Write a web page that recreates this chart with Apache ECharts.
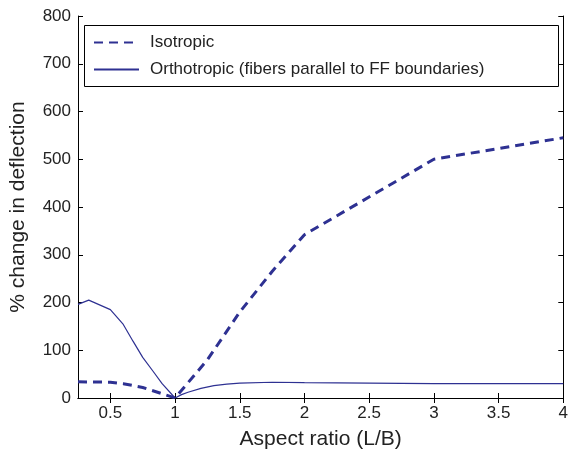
<!DOCTYPE html>
<html><head><meta charset="utf-8">
<script src="https://cdn.jsdelivr.net/npm/echarts@6/dist/echarts.min.js"></script>
<style>html,body{margin:0;padding:0;background:#fff}#c{width:571px;height:460px}</style>
</head><body><div id="c"></div>
<script>
var isoX = [0.25, 0.5, 0.6, 0.75, 0.9, 1, 1.25, 1.5, 1.75, 2, 3, 4];
var isoY = [34, 33, 30, 22, 9, 0, 80, 180, 265, 342, 500, 545];
var orthoX = [0.25, 0.333, 0.5, 0.6, 0.675, 0.75, 0.83, 0.9, 1, 1.05, 1.1, 1.2, 1.3, 1.4, 1.5, 1.75, 2, 2.5, 3, 3.5, 4];
var orthoY = [196, 205, 185, 154, 119, 85, 56, 30, 0, 7, 12, 20, 26, 29, 31, 33, 32, 31, 30, 30, 30];
var xTicks = [0.5, 1, 1.5, 2, 2.5, 3, 3.5, 4];
var yTicks = [0, 100, 200, 300, 400, 500, 600, 700, 800];
var seriesNames = ['Isotropic', 'Orthotropic (fibers parallel to FF boundaries)'];

function pairs(xs, ys) { return xs.map(function (x, i) { return [x, ys[i]]; }); }

var font = 'Liberation Sans, Arial, Helvetica, sans-serif';
var lineColor = '#2E3192';
var chart = echarts.init(document.getElementById('c'));
var axisLine = { show: true, lineStyle: { color: '#000', width: 1 } };
chart.setOption({
  animation: false,
  backgroundColor: '#fff',
  grid: { left: 78, right: 7, top: 16, bottom: 62, containLabel: false },
  graphic: [{
    type: 'rect', left: 84, top: 25, z: 100,
    shape: { width: 474, height: 61 },
    style: { fill: '#fff', stroke: '#000', lineWidth: 1 }
  }],
  legend: {
    left: 88, top: 29, orient: 'vertical', z: 110,
    itemWidth: 45, itemHeight: 14, itemGap: 10,
    itemStyle: { opacity: 0 },
    textStyle: { fontFamily: font, fontSize: 17, color: '#222', lineHeight: 17, padding: [0, 0, 0, 6] },
    data: seriesNames
  },
  xAxis: [{
    type: 'value', min: 0.25, max: 4, position: 'bottom',
    name: 'Aspect ratio (L/B)', nameLocation: 'middle', nameGap: 31,
    nameTextStyle: { fontFamily: font, fontSize: 21, color: '#222' },
    axisLine: axisLine,
    axisTick: { show: true, inside: true, length: 5, customValues: xTicks, lineStyle: { color: '#000' } },
    axisLabel: { customValues: xTicks, fontFamily: font, fontSize: 17, color: '#222', margin: 7 },
    splitLine: { show: false }
  }, {
    type: 'value', min: 0.25, max: 4, position: 'top',
    axisLine: axisLine,
    axisTick: { show: true, inside: true, length: 5, customValues: xTicks, lineStyle: { color: '#000' } },
    axisLabel: { show: false },
    splitLine: { show: false }
  }],
  yAxis: [{
    type: 'value', min: 0, max: 800, interval: 100, position: 'left',
    name: '% change in deflection', nameLocation: 'middle', nameGap: 49,
    nameTextStyle: { fontFamily: font, fontSize: 21, color: '#222' },
    axisLine: axisLine,
    axisTick: { show: true, inside: true, length: 5, lineStyle: { color: '#000' } },
    axisLabel: { fontFamily: font, fontSize: 17, color: '#222', margin: 7 },
    splitLine: { show: false }
  }, {
    type: 'value', min: 0, max: 800, interval: 100, position: 'right',
    axisLine: axisLine,
    axisTick: { show: true, inside: true, length: 5, lineStyle: { color: '#000' } },
    axisLabel: { show: false },
    splitLine: { show: false }
  }],
  series: [{
    name: seriesNames[0], type: 'line', data: pairs(isoX, isoY),
    showSymbol: false, symbol: 'none', z: 5,
    lineStyle: { color: lineColor, width: 3, type: [9, 6] },
    itemStyle: { color: lineColor }
  }, {
    name: seriesNames[1], type: 'line', data: pairs(orthoX, orthoY),
    showSymbol: false, symbol: 'none', z: 4,
    lineStyle: { color: lineColor, width: 1.2 },
    itemStyle: { color: lineColor }
  }]
});
</script>
</body></html>
